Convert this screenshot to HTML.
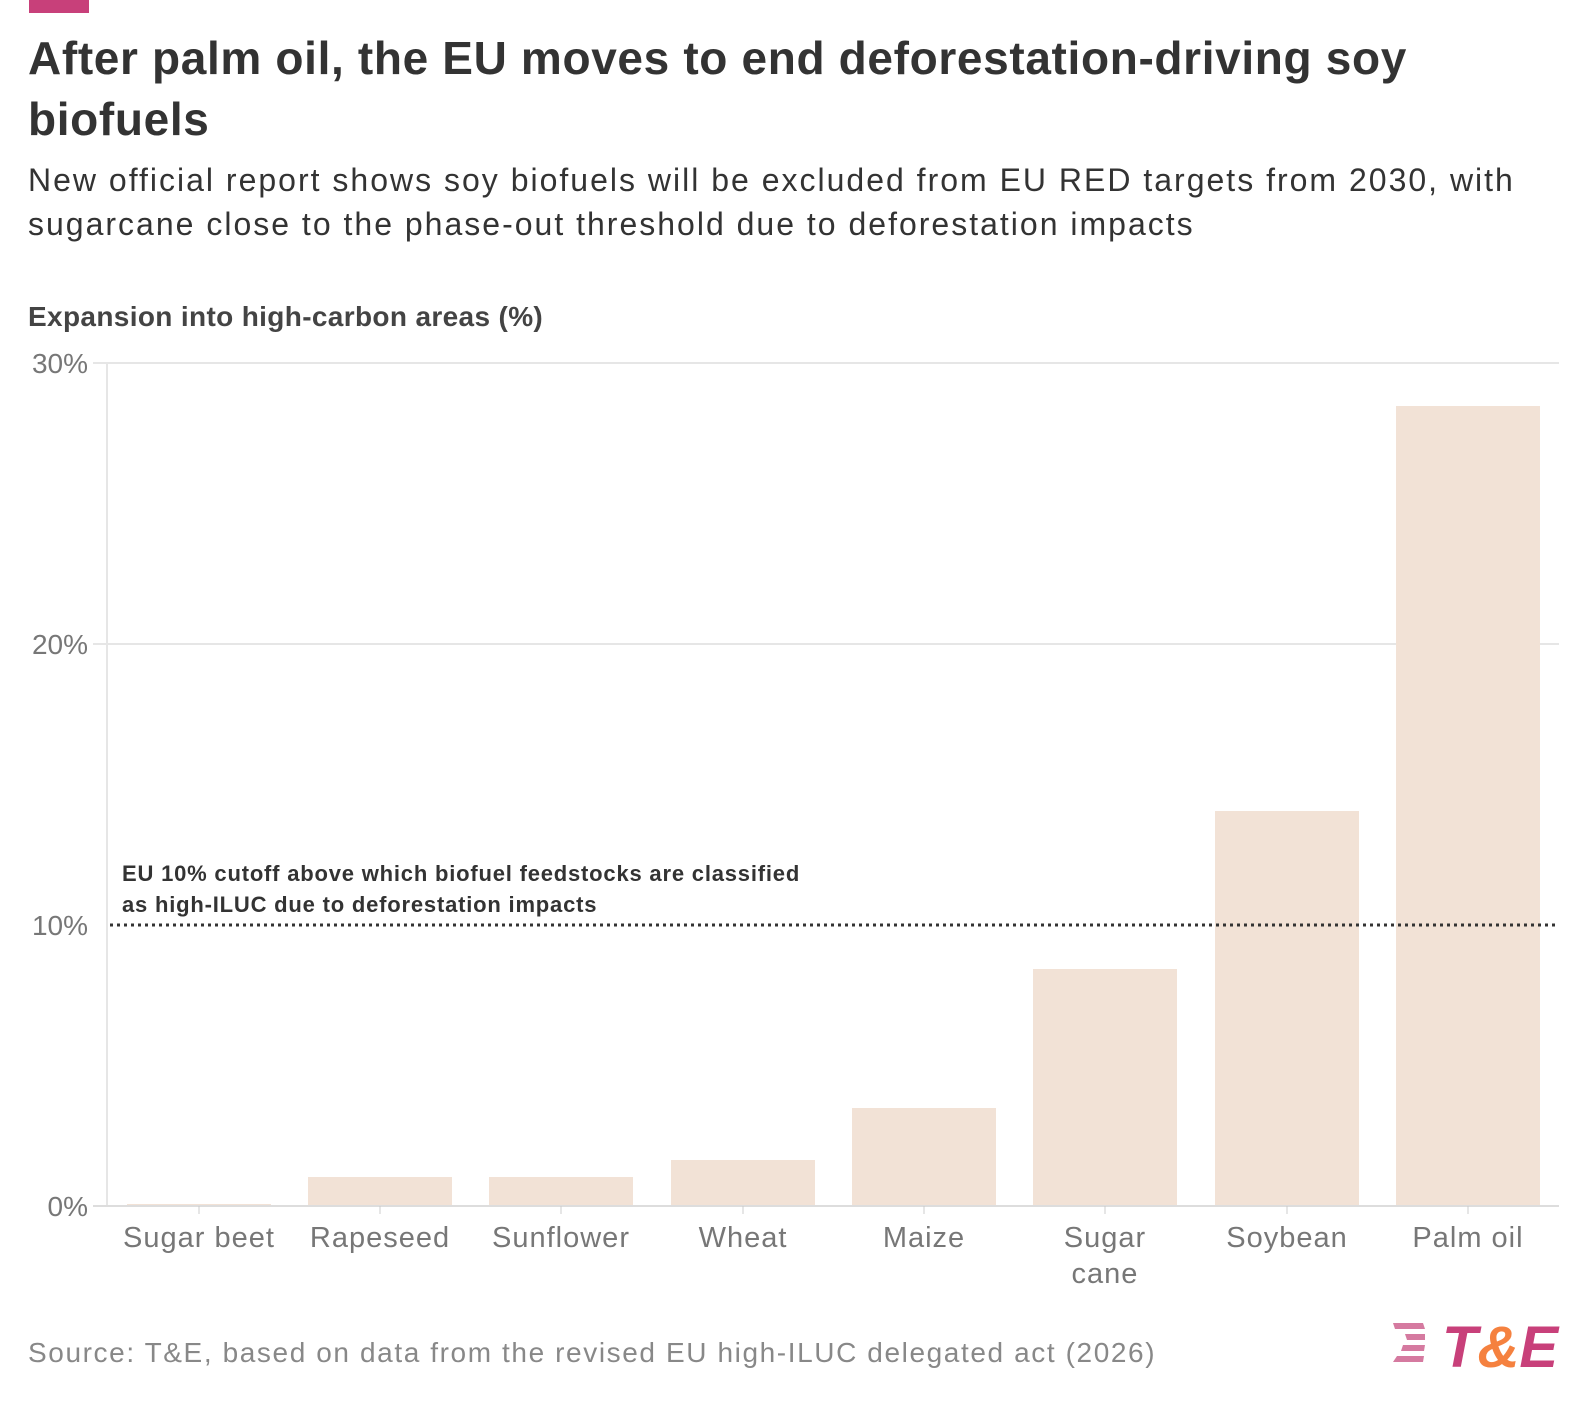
<!DOCTYPE html>
<html><head><style>
body{margin:0;width:1590px;height:1406px;background:#fff;font-family:"Liberation Sans",sans-serif;position:relative;overflow:hidden}
.a{position:absolute;white-space:nowrap}
</style></head><body>
<div class="a" style="left:29px;top:0;width:60px;height:13px;background:#c8407a"></div>
<div class="a" style="left:28px;top:28px;font-size:46px;font-weight:bold;color:#333;line-height:61px;letter-spacing:0.65px">After palm oil, the EU moves to end deforestation-driving soy<br>biofuels</div>
<div class="a" style="left:28px;top:158px;font-size:32px;color:#333;line-height:44px;letter-spacing:2px">New official report shows soy biofuels will be excluded from EU RED targets from 2030, with<br>sugarcane close to the phase-out threshold due to deforestation impacts</div>
<div class="a" style="left:28px;top:301px;font-size:28px;font-weight:bold;color:#444;letter-spacing:0.35px">Expansion into high-carbon areas (%)</div>
<svg class="a" style="left:0;top:0" width="1590" height="1406">
<g stroke="#e6e6e6" stroke-width="2"><line x1="93" x2="1559" y1="363" y2="363"/><line x1="93" x2="1559" y1="644" y2="644"/><line x1="107" x2="107" y1="363" y2="1206"/></g>
<g fill="#f2e2d6">
<rect x="127" y="1204" width="144" height="2"/>
<rect x="308" y="1177" width="144" height="29"/>
<rect x="489" y="1177" width="144" height="29"/>
<rect x="671" y="1160" width="144" height="46"/>
<rect x="852" y="1108" width="144" height="98"/>
<rect x="1033" y="969" width="144" height="237"/>
<rect x="1215" y="811" width="144" height="395"/>
<rect x="1396" y="406" width="144" height="800"/>
</g>
<line x1="93" x2="1559" y1="1206" y2="1206" stroke="#ddd" stroke-width="2"/>
<g stroke="#ccc" stroke-width="1"><line x1="199" x2="199" y1="1206" y2="1214"/><line x1="380" x2="380" y1="1206" y2="1214"/><line x1="561" x2="561" y1="1206" y2="1214"/><line x1="743" x2="743" y1="1206" y2="1214"/><line x1="924" x2="924" y1="1206" y2="1214"/><line x1="1105" x2="1105" y1="1206" y2="1214"/><line x1="1287" x2="1287" y1="1206" y2="1214"/><line x1="1468" x2="1468" y1="1206" y2="1214"/></g>
<line x1="110" x2="1559" y1="925" y2="925" stroke="#333" stroke-width="3" stroke-dasharray="3,4"/>
<g font-size="28" fill="#777" text-anchor="end"><text x="88" y="373">30%</text><text x="88" y="654">20%</text><text x="88" y="935">10%</text><text x="88" y="1216">0%</text></g>
<g font-size="29" fill="#777" text-anchor="middle" letter-spacing="1"><text x="199" y="1247">Sugar beet</text><text x="380" y="1247">Rapeseed</text><text x="561" y="1247">Sunflower</text><text x="743" y="1247">Wheat</text><text x="924" y="1247">Maize</text><text x="1105" y="1247">Sugar</text><text x="1105" y="1283">cane</text><text x="1287" y="1247">Soybean</text><text x="1468" y="1247">Palm oil</text></g>
<g font-size="22" font-weight="bold" fill="#333" letter-spacing="0.8"><text x="122" y="881">EU 10% cutoff above which biofuel feedstocks are classified</text><text x="122" y="912">as high-ILUC due to deforestation impacts</text></g>
<text x="28" y="1362" font-size="28" fill="#888" letter-spacing="1.6">Source: T&amp;E, based on data from the revised EU high-ILUC delegated act (2026)</text>
<g fill="#d57aa0"><polygon points="1393,1323 1423,1323 1425,1329 1395,1329"/><polygon points="1405,1334 1425,1334 1425,1340 1407,1340"/><polygon points="1403,1345 1425,1345 1424,1351 1401,1351"/><polygon points="1397,1356 1424,1356 1423,1362 1393,1362"/></g>
<text x="1442" y="1367" font-size="58" font-weight="bold" font-style="italic" fill="#c8407a">T<tspan fill="#f5813f">&amp;</tspan>E</text>
</svg>
</body></html>
